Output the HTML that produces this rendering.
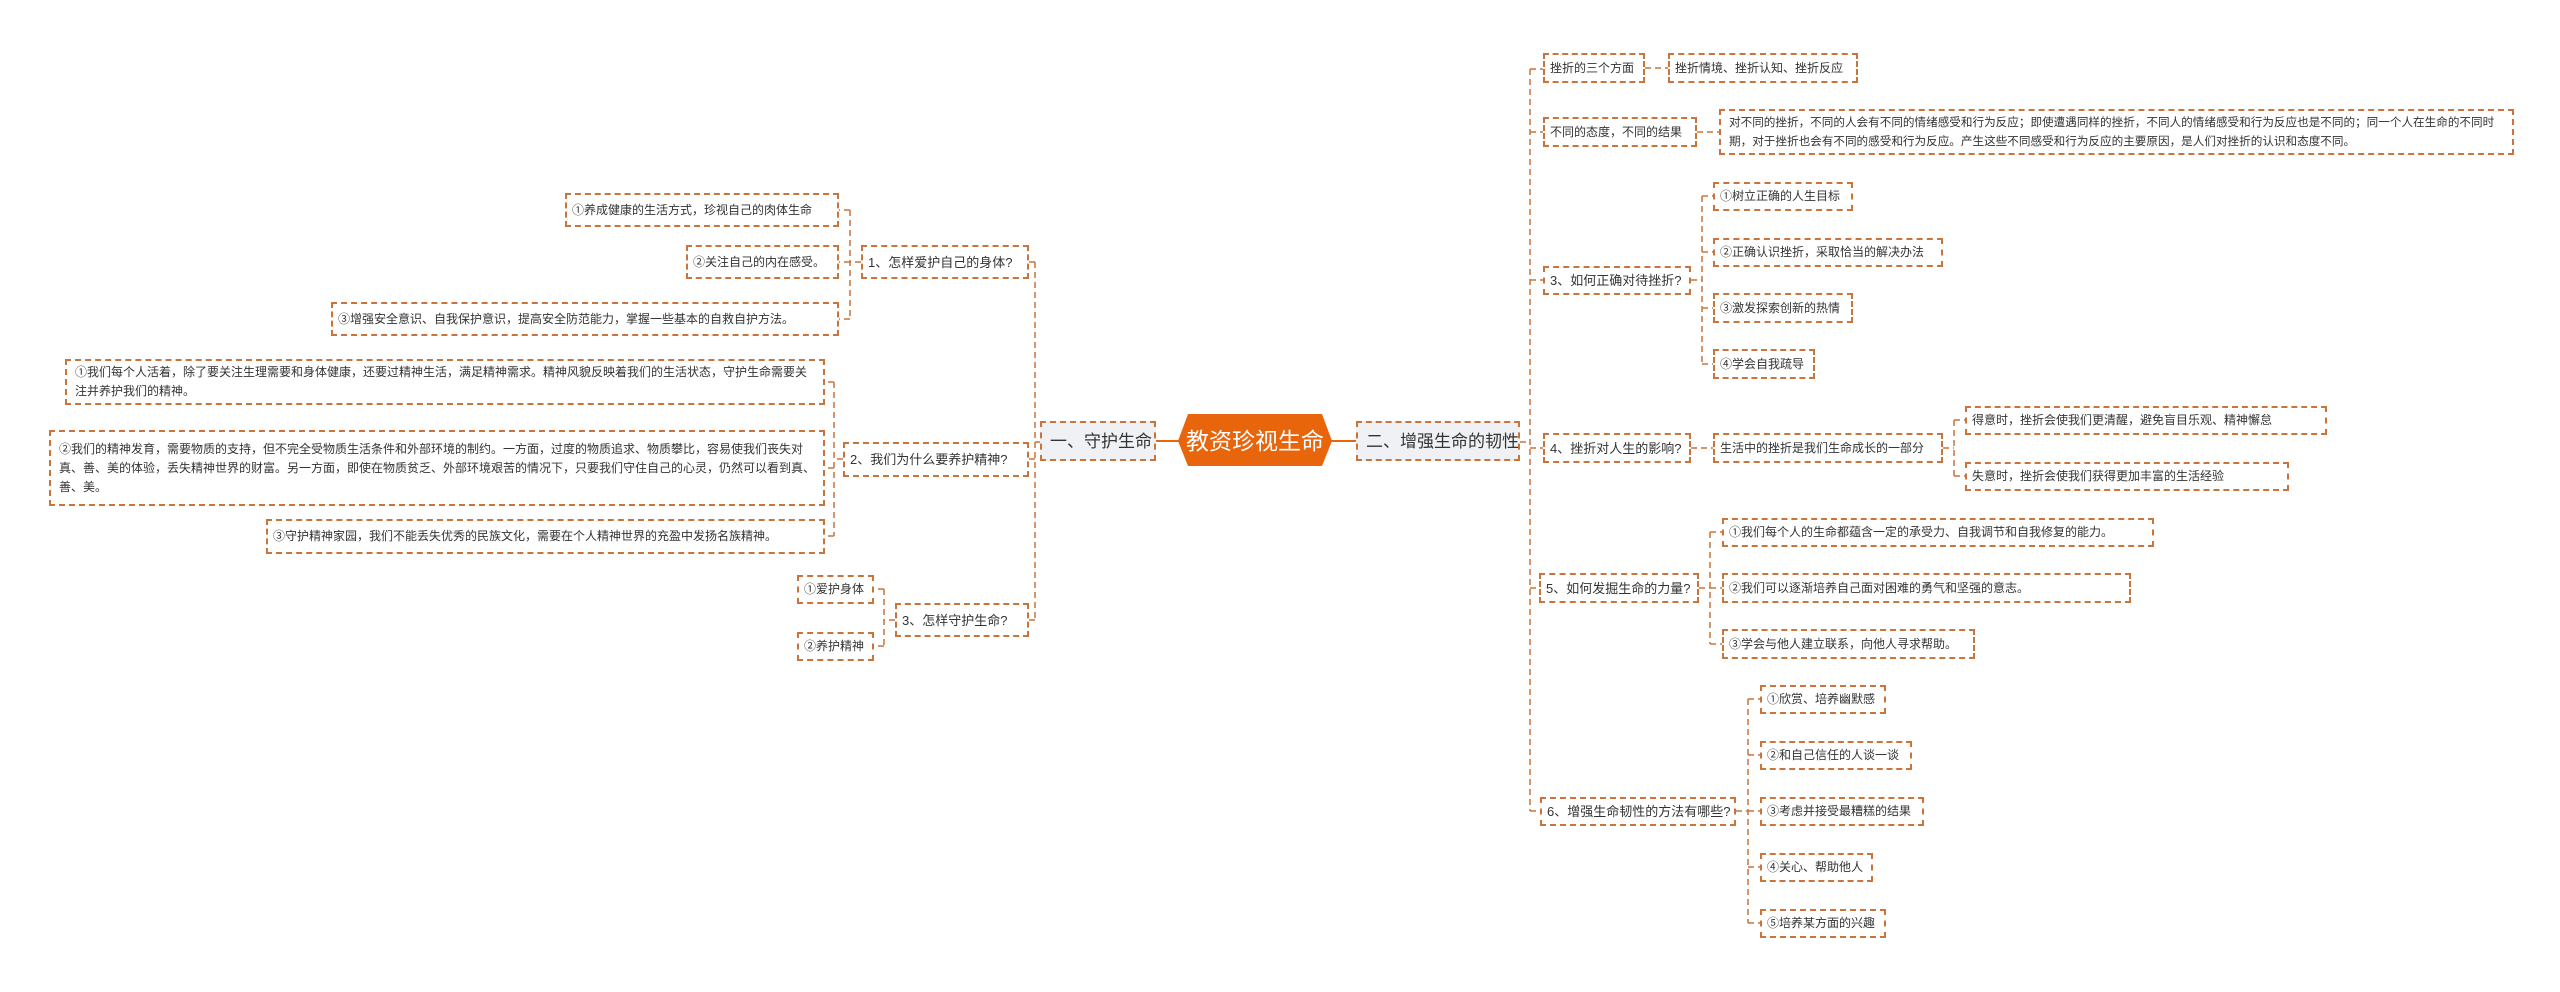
<!DOCTYPE html>
<html><head><meta charset="utf-8"><style>
body{margin:0;width:2560px;height:992px;background:#fff;position:relative;overflow:hidden;font-family:"Liberation Sans","Noto Sans CJK SC",sans-serif;color:#333}
.b{position:absolute;box-sizing:border-box;border:2px dashed #c9743a;background:#fff;display:flex;align-items:center;padding:0 5px;font-size:12px;line-height:19px;white-space:nowrap;overflow:hidden}
.w{white-space:normal;padding:0 8px}
.l1{background:#eff1f4;font-size:17px;padding:0 8px}
.l2{font-size:13px}
svg{position:absolute;left:0;top:0}
</style></head><body>
<svg width="2560" height="992" fill="none">
<g stroke="#c9743a" stroke-width="1.5" stroke-dasharray="6 4">
<path d="M861 262 H850 M850 210 V319 M850 210 H839 M850 262 H839 M850 319 H839"/>
<path d="M843 459 H834 M834 382 V536 M834 382 H825 M834 468 H825 M834 536 H825"/>
<path d="M895 620 H884 M884 589 V646 M884 589 H874 M884 646 H874"/>
<path d="M1040 442 H1035 M1035 262 V620 M1035 262 H1029 M1035 459 H1029 M1035 620 H1029"/>
<path d="M1520 442 H1530 M1530 69 V811 M1530 69 H1543 M1530 132 H1543 M1530 280 H1543 M1530 448 H1543 M1530 588 H1539 M1530 811 H1540"/>
<path d="M1645 68 H1668 M1697 132 H1719"/>
<path d="M1691 280 H1702 M1702 196 V364 M1702 196 H1713 M1702 252 H1713 M1702 308 H1713 M1702 364 H1713"/>
<path d="M1691 448 H1713 M1943 448 H1954 M1954 420 V476 M1954 420 H1965 M1954 476 H1965"/>
<path d="M1699 588 H1710 M1710 532 V644 M1710 532 H1722 M1710 588 H1722 M1710 644 H1722"/>
<path d="M1736 811 H1748 M1748 699 V923 M1748 699 H1760 M1748 755 H1760 M1748 811 H1760 M1748 867 H1760 M1748 923 H1760"/>
</g>
<path d="M1155 441 H1180 M1330 441 H1356" stroke="#e8650c" stroke-width="2"/>
<polygon points="1178,441 1188,414 1322,414 1332,441 1322,466 1188,466" fill="#e8650c"/>
<text x="1255" y="449" fill="#fff" font-size="23" text-anchor="middle" font-family="Liberation Sans,Noto Sans CJK SC,sans-serif">教资珍视生命</text>
</svg>
<div class="b l1" style="left:1040px;top:421px;width:116px;height:40px">一、守护生命</div>
<div class="b l1" style="left:1356px;top:421px;width:164px;height:40px">二、增强生命的韧性</div>

<div class="b l2" style="left:861px;top:245px;width:168px;height:34px">1、怎样爱护自己的身体?</div>
<div class="b l2" style="left:843px;top:442px;width:186px;height:35px">2、我们为什么要养护精神?</div>
<div class="b l2" style="left:895px;top:603px;width:134px;height:34px">3、怎样守护生命?</div>
<div class="b" style="left:565px;top:193px;width:274px;height:34px">①养成健康的生活方式，珍视自己的肉体生命</div>
<div class="b" style="left:686px;top:245px;width:153px;height:34px">②关注自己的内在感受。</div>
<div class="b" style="left:331px;top:302px;width:508px;height:34px">③增强安全意识、自我保护意识，提高安全防范能力，掌握一些基本的自救自护方法。</div>
<div class="b w" style="left:65px;top:359px;width:760px;height:46px">①我们每个人活着，除了要关注生理需要和身体健康，还要过精神生活，满足精神需求。精神风貌反映着我们的生活状态，守护生命需要关注并养护我们的精神。</div>
<div class="b w" style="left:49px;top:430px;width:776px;height:76px">②我们的精神发育，需要物质的支持，但不完全受物质生活条件和外部环境的制约。一方面，过度的物质追求、物质攀比，容易使我们丧失对真、善、美的体验，丢失精神世界的财富。另一方面，即使在物质贫乏、外部环境艰苦的情况下，只要我们守住自己的心灵，仍然可以看到真、善、美。</div>
<div class="b" style="left:266px;top:519px;width:559px;height:35px">③守护精神家园，我们不能丢失优秀的民族文化，需要在个人精神世界的充盈中发扬名族精神。</div>
<div class="b" style="left:797px;top:575px;width:77px;height:29px">①爱护身体</div>
<div class="b" style="left:797px;top:632px;width:77px;height:29px">②养护精神</div>

<div class="b" style="left:1543px;top:53px;width:102px;height:30px">挫折的三个方面</div>
<div class="b" style="left:1668px;top:53px;width:190px;height:30px">挫折情境、挫折认知、挫折反应</div>
<div class="b" style="left:1543px;top:117px;width:154px;height:30px">不同的态度，不同的结果</div>
<div class="b w" style="left:1719px;top:109px;width:795px;height:46px;font-size:11.6px">对不同的挫折，不同的人会有不同的情绪感受和行为反应；即使遭遇同样的挫折，不同人的情绪感受和行为反应也是不同的；同一个人在生命的不同时期，对于挫折也会有不同的感受和行为反应。产生这些不同感受和行为反应的主要原因，是人们对挫折的认识和态度不同。</div>
<div class="b l2" style="left:1543px;top:266px;width:148px;height:29px">3、如何正确对待挫折?</div>
<div class="b" style="left:1713px;top:182px;width:140px;height:29px">①树立正确的人生目标</div>
<div class="b" style="left:1713px;top:238px;width:230px;height:29px">②正确认识挫折，采取恰当的解决办法</div>
<div class="b" style="left:1713px;top:293px;width:140px;height:30px">③激发探索创新的热情</div>
<div class="b" style="left:1713px;top:349px;width:102px;height:30px">④学会自我疏导</div>
<div class="b l2" style="left:1543px;top:433px;width:148px;height:30px">4、挫折对人生的影响?</div>
<div class="b" style="left:1713px;top:433px;width:230px;height:30px">生活中的挫折是我们生命成长的一部分</div>
<div class="b" style="left:1965px;top:406px;width:362px;height:29px">得意时，挫折会使我们更清醒，避免盲目乐观、精神懈怠</div>
<div class="b" style="left:1965px;top:462px;width:324px;height:29px">失意时，挫折会使我们获得更加丰富的生活经验</div>
<div class="b l2" style="left:1539px;top:573px;width:160px;height:30px">5、如何发掘生命的力量?</div>
<div class="b" style="left:1722px;top:518px;width:432px;height:29px">①我们每个人的生命都蕴含一定的承受力、自我调节和自我修复的能力。</div>
<div class="b" style="left:1722px;top:573px;width:409px;height:30px">②我们可以逐渐培养自己面对困难的勇气和坚强的意志。</div>
<div class="b" style="left:1722px;top:629px;width:253px;height:30px">③学会与他人建立联系，向他人寻求帮助。</div>
<div class="b l2" style="left:1540px;top:797px;width:196px;height:29px">6、增强生命韧性的方法有哪些?</div>
<div class="b" style="left:1760px;top:685px;width:126px;height:29px">①欣赏、培养幽默感</div>
<div class="b" style="left:1760px;top:741px;width:152px;height:29px">②和自己信任的人谈一谈</div>
<div class="b" style="left:1760px;top:797px;width:164px;height:29px">③考虑并接受最糟糕的结果</div>
<div class="b" style="left:1760px;top:853px;width:113px;height:29px">④关心、帮助他人</div>
<div class="b" style="left:1760px;top:909px;width:126px;height:29px">⑤培养某方面的兴趣</div>
</body></html>
